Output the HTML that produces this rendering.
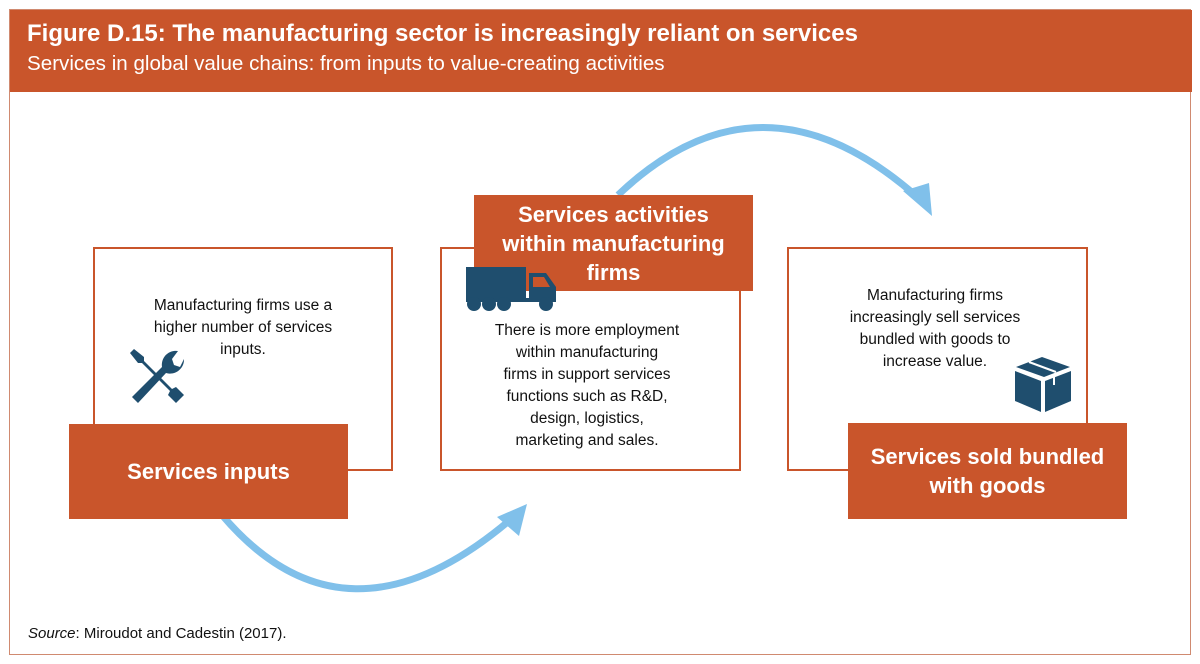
<!DOCTYPE html>
<html><head><meta charset="utf-8"><style>
body{margin:0;width:1200px;height:664px;background:#fff;font-family:"Liberation Sans",Arial,sans-serif;overflow:hidden;position:relative}
.a{position:absolute}
.frame{left:9px;top:9px;width:1182px;height:646px;border:1.5px solid #d08a70;box-sizing:border-box}
.hdr{left:10px;top:10px;width:1182px;height:82px;background:#c9552b;color:#fff}
.box{border:2px solid #c9552b;box-sizing:border-box;background:#fff}
.lab{background:#c9552b;color:#fff;font-weight:bold;font-size:22px;display:flex;align-items:center;justify-content:center;text-align:center;line-height:29px}
.t{font-size:15.5px;color:#111;text-align:center;line-height:22px}
</style></head><body>
<div class="a frame"></div>
<div class="a hdr">
<div class="a" style="left:17px;top:10px;font-size:24px;font-weight:bold;white-space:nowrap">Figure D.15: The manufacturing sector is increasingly reliant on services</div>
<div class="a" style="left:17px;top:42px;font-size:20.6px;white-space:nowrap">Services in global value chains: from inputs to value-creating activities</div>
</div>
<svg class="a" style="left:0;top:0" width="1200" height="664">
<path d="M222,515 Q345,660 510,520" fill="none" stroke="#80c0ea" stroke-width="7"/>
<polygon points="527,504 497,517 519,536" fill="#80c0ea"/>
<path d="M618,195 Q760,60 915,195" fill="none" stroke="#80c0ea" stroke-width="7"/>
<polygon points="932,216 903,191 929,183" fill="#80c0ea"/>
</svg>
<div class="a box" style="left:93px;top:247px;width:300px;height:224px"></div>
<div class="a t" style="left:138px;top:295px;width:210px">Manufacturing firms use a<br>higher number of services<br>inputs.</div>
<svg class="a" style="left:126px;top:345px" width="60" height="60" viewBox="0 0 60 60">
<path d="M8,4 L4,8 L12,18 L16,18 L44,46 L42,50 L50,58 L58,50 L50,42 L46,44 L18,16 L18,12 Z" fill="#1f4e6e"/>
<path d="M6,52 L36,22 A14,14 0 0 1 52,6 L46,14 L48,20 L54,22 L58,14 A14,14 0 0 1 40,28 L12,58 Z" fill="#1f4e6e"/>
</svg>
<div class="a lab" style="left:69px;top:424px;width:279px;height:95px">Services inputs</div>

<div class="a box" style="left:440px;top:247px;width:301px;height:224px"></div>
<div class="a lab" style="left:474px;top:195px;width:279px;height:96px">Services activities<br>within manufacturing<br>firms</div>
<svg class="a" style="left:466px;top:267px" width="92" height="46" viewBox="0 0 92 46">
<rect x="0" y="0" width="60" height="31" fill="#1f4e6e"/>
<path d="M63,6 L80,6 L90,20 L90,33 L63,33 Z" fill="#1f4e6e"/>
<path d="M67,10 L78,10 L84,20 L67,20 Z" fill="#c9552b"/>
<rect x="0" y="31" width="90" height="4" fill="#1f4e6e"/>
<circle cx="8" cy="37" r="7" fill="#1f4e6e"/><circle cx="23" cy="37" r="7" fill="#1f4e6e"/><circle cx="38" cy="37" r="7" fill="#1f4e6e"/><circle cx="80" cy="37" r="7" fill="#1f4e6e"/>
</svg>
<div class="a t" style="left:467px;top:320px;width:240px">There is more employment<br>within manufacturing<br>firms in support services<br>functions such as R&amp;D,<br>design, logistics,<br>marketing and sales.</div>

<div class="a box" style="left:787px;top:247px;width:301px;height:224px"></div>
<div class="a t" style="left:845px;top:285px;width:180px">Manufacturing firms<br>increasingly sell services<br>bundled with goods to<br>increase value.</div>
<svg class="a" style="left:1014px;top:355px" width="58" height="57" viewBox="0 0 58 57">
<path d="M2,12 L28,2 L56,12 L30,22 Z" fill="#1f4e6e"/>
<path d="M1,16 L27,26 L27,57 L1,46 Z" fill="#1f4e6e"/>
<path d="M31,26 L57,16 L57,46 L31,57 Z" fill="#1f4e6e"/>
<path d="M15,7 L42,17" stroke="#fff" stroke-width="2"/>
<path d="M40,20 L40,30" stroke="#fff" stroke-width="2"/>
</svg>
<div class="a lab" style="left:848px;top:423px;width:279px;height:96px">Services sold bundled<br>with goods</div>

<div class="a" style="left:28px;top:625px;font-size:15px;color:#111"><i>Source</i>: Miroudot and Cadestin (2017).</div>
</body></html>
